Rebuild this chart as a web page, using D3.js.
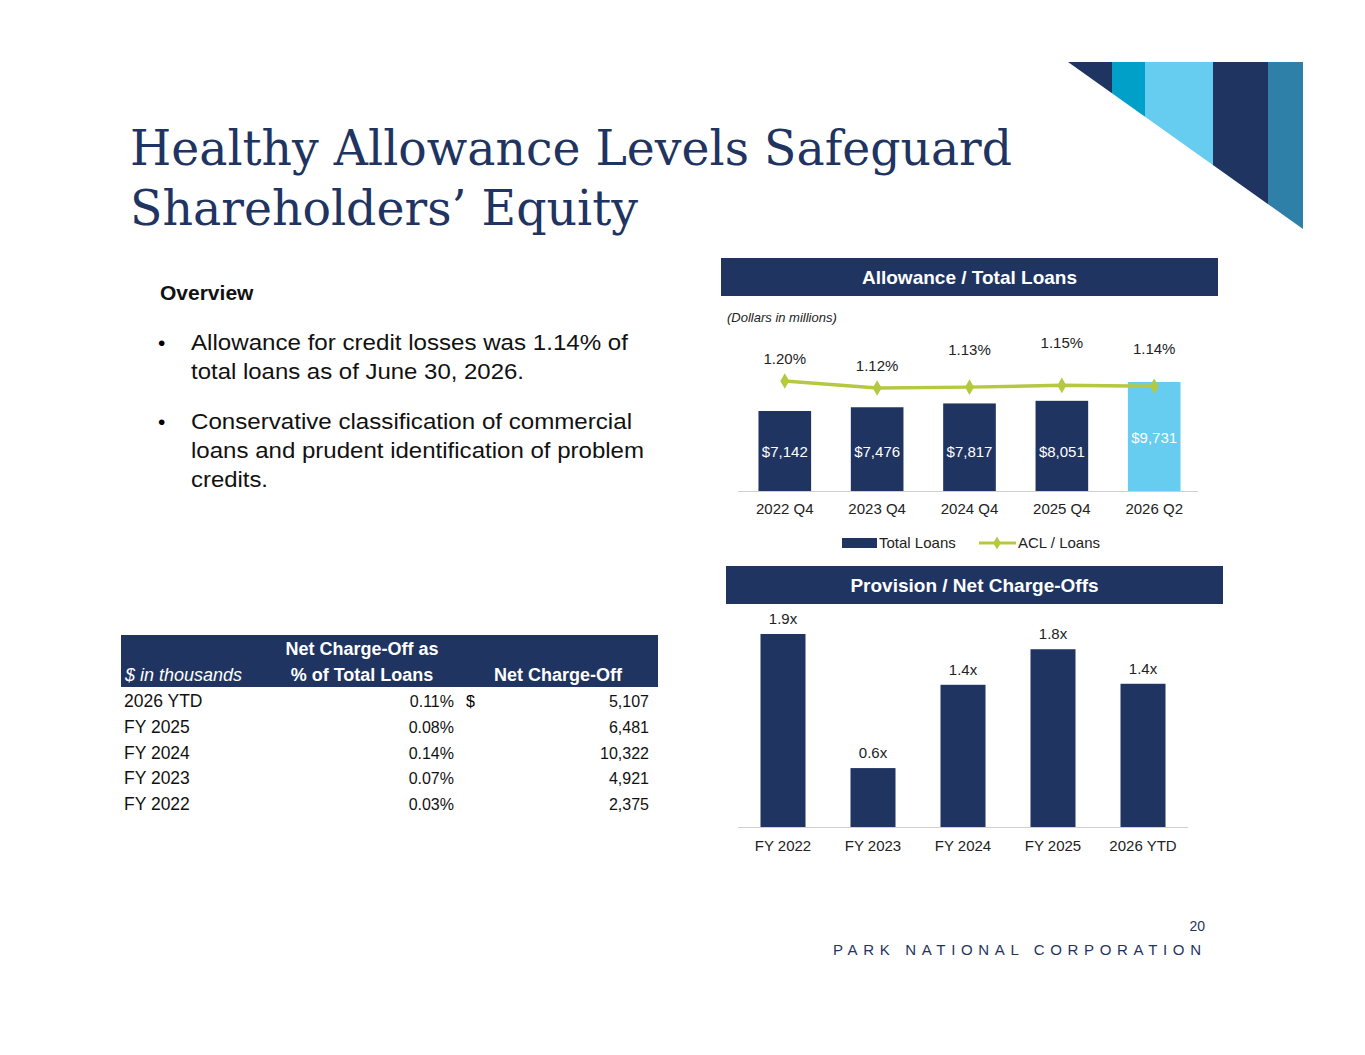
<!DOCTYPE html><html><head><meta charset="utf-8"><script src="https://cdn.jsdelivr.net/npm/d3@7"></script>
<style>body{margin:0;background:#fff}text{font-family:Arial,"Liberation Sans",sans-serif}</style></head><body>
<svg id="c" width="1365" height="1055"></svg>
<script>
const loanCats=["2022 Q4","2023 Q4","2024 Q4","2025 Q4","2026 Q2"];
const totalLoans=[7142,7476,7817,8051,9731];
const aclPct=[1.20,1.12,1.13,1.15,1.14];
const provCats=["FY 2022","FY 2023","FY 2024","FY 2025","2026 YTD"];
const provRatio=[1.9,0.58,1.40,1.75,1.41];
const provLabels=["1.9x","0.6x","1.4x","1.8x","1.4x"];
const tblRows=["2026 YTD","FY 2025","FY 2024","FY 2023","FY 2022"];
const tblPct=["0.11%","0.08%","0.14%","0.07%","0.03%"];
const tblNco=["5,107","6,481","10,322","4,921","2,375"];

const navy="#1f3461",svg=d3.select("#c");
const deco=[[1068,1112,navy],[1112,1145,"#00a0c8"],[1145,1213,"#66ccf0"],[1213,1268,navy],[1268,1303,"#2f80a8"]];
const clip=svg.append("clipPath").attr("id","tri");clip.append("path").attr("d","M1068,62L1303,62L1303,229Z");
deco.forEach(d=>svg.append("rect").attr("clip-path","url(#tri)").attr("x",d[0]).attr("y",62).attr("width",d[1]-d[0]).attr("height",170).attr("fill",d[2]));
svg.append("text").attr("x",130).attr("y",165).style("font-family","'DejaVu Serif',serif").attr("font-size",48).attr("textLength",882).attr("lengthAdjust","spacingAndGlyphs").attr("fill",navy).text("Healthy Allowance Levels Safeguard");
svg.append("text").attr("x",130).attr("y",225).style("font-family","'DejaVu Serif',serif").attr("font-size",48).attr("textLength",508).attr("lengthAdjust","spacingAndGlyphs").attr("fill",navy).text("Shareholders’ Equity");
svg.append("text").attr("x",160).attr("y",300).attr("font-size",21).attr("font-weight","bold").attr("fill","#111").text("Overview");
const bullets=[[350,"Allowance for credit losses was 1.14% of",437],[379,"total loans as of June 30, 2026.",333],[429,"Conservative classification of commercial",441],[458,"loans and prudent identification of problem",453],[487,"credits.",77]];
bullets.forEach(b=>svg.append("text").attr("x",191).attr("y",b[0]).attr("font-size",22.5).attr("textLength",b[2]).attr("lengthAdjust","spacingAndGlyphs").attr("fill","#111").text(b[1]));
[350,429].forEach(y=>svg.append("text").attr("x",158).attr("y",y).attr("font-size",21).text("•"));
function band(x,y,w,h,t){svg.append("rect").attr("x",x).attr("y",y).attr("width",w).attr("height",h).attr("fill",navy);
svg.append("text").attr("x",x+w/2).attr("y",y+h/2+7).attr("text-anchor","middle").attr("fill","#fff").attr("font-weight","bold").attr("font-size",19).text(t);}
band(721,258,497,38,"Allowance / Total Loans");
band(726,566,497,38,"Provision / Net Charge-Offs");
svg.append("text").attr("x",727).attr("y",322).attr("font-size",13).attr("font-style","italic").attr("fill","#222").text("(Dollars in millions)");
const x1=d3.scaleBand().domain(loanCats).range([740,1199]).paddingInner(0.43).paddingOuter(0.2);
const y1=d3.scaleLinear().domain([0,9731]).range([491,382]);
const y1b=d3.scaleLinear().domain([1.12,1.20]).range([388,381]);
const g1=svg.append("g");
g1.selectAll("rect").data(totalLoans).join("rect").attr("x",(d,i)=>x1(loanCats[i])).attr("y",d=>y1(d)).attr("width",x1.bandwidth()).attr("height",d=>491-y1(d)).attr("fill",(d,i)=>i==4?"#66ccf0":navy);
g1.selectAll(".bl").data(totalLoans).join("text").attr("x",(d,i)=>x1(loanCats[i])+x1.bandwidth()/2).attr("y",457).attr("text-anchor","middle").attr("fill","#fff").attr("font-size",15).text(d=>"$"+d3.format(",")(d)).attr("dy",(d,i)=>i==4?-14:0);
g1.append("line").attr("x1",738).attr("x2",1198).attr("y1",491.5).attr("y2",491.5).attr("stroke","#d0d0d0");
const cx=c=>x1(c)+x1.bandwidth()/2;
g1.append("path").attr("d",d3.line().x((d,i)=>cx(loanCats[i])).y(d=>y1b(d))(aclPct)).attr("fill","none").attr("stroke","#b5c842").attr("stroke-width",3.5);
g1.selectAll(".dm").data(aclPct).join("path").attr("d",d3.symbol(d3.symbolDiamond,70)()).attr("transform",(d,i)=>`translate(${cx(loanCats[i])},${y1b(d)})`).attr("fill","#b5c842");
const lblY=[364,371,355,348,354];
g1.selectAll(".pl").data(aclPct).join("text").attr("x",(d,i)=>cx(loanCats[i])).attr("y",(d,i)=>lblY[i]).attr("text-anchor","middle").attr("font-size",15).attr("fill","#222").text(d=>d.toFixed(2)+"%");
g1.selectAll(".xl").data(loanCats).join("text").attr("x",d=>cx(d)).attr("y",514).attr("text-anchor","middle").attr("font-size",15).attr("fill","#222").text(d=>d);
svg.append("rect").attr("x",842).attr("y",538).attr("width",35).attr("height",10).attr("fill",navy);
svg.append("text").attr("x",879).attr("y",548).attr("font-size",15).attr("fill","#222").text("Total Loans");
svg.append("line").attr("x1",979).attr("x2",1016).attr("y1",543).attr("y2",543).attr("stroke","#b5c842").attr("stroke-width",3);
svg.append("path").attr("d",d3.symbol(d3.symbolDiamond,50)()).attr("transform","translate(997,543)").attr("fill","#b5c842");
svg.append("text").attr("x",1018).attr("y",548).attr("font-size",15).attr("fill","#222").text("ACL / Loans");
const x2=d3.scaleBand().domain(provCats).range([738,1188]).paddingInner(0.5).paddingOuter(0.25);
const y2=d3.scaleLinear().domain([0,1.9]).range([827,634]);
const g2=svg.append("g");
g2.selectAll("rect").data(provRatio).join("rect").attr("x",(d,i)=>x2(provCats[i])).attr("y",d=>y2(d)).attr("width",x2.bandwidth()).attr("height",d=>827-y2(d)).attr("fill",navy);
g2.selectAll(".vl").data(provRatio).join("text").attr("x",(d,i)=>x2(provCats[i])+x2.bandwidth()/2).attr("y",d=>y2(d)-10).attr("text-anchor","middle").attr("font-size",15).attr("fill","#222").text((d,i)=>provLabels[i]);
g2.append("line").attr("x1",738).attr("x2",1188).attr("y1",827.5).attr("y2",827.5).attr("stroke","#d0d0d0");
g2.selectAll(".xl").data(provCats).join("text").attr("x",d=>x2(d)+x2.bandwidth()/2).attr("y",851).attr("text-anchor","middle").attr("font-size",15).attr("fill","#222").text(d=>d);
svg.append("rect").attr("x",121).attr("y",635).attr("width",537).attr("height",52).attr("fill",navy);
svg.append("text").attr("x",362).attr("y",655).attr("text-anchor","middle").attr("fill","#fff").attr("font-weight","bold").attr("font-size",18).text("Net Charge-Off as");
svg.append("text").attr("x",362).attr("y",681).attr("text-anchor","middle").attr("fill","#fff").attr("font-weight","bold").attr("font-size",18).text("% of Total Loans");
svg.append("text").attr("x",558).attr("y",681).attr("text-anchor","middle").attr("fill","#fff").attr("font-weight","bold").attr("font-size",18).text("Net Charge-Off");
svg.append("text").attr("x",125).attr("y",681).attr("fill","#fff").attr("font-style","italic").attr("font-size",18).text("$ in thousands");
tblRows.forEach((r,i)=>{const y=707+i*25.8;
svg.append("text").attr("x",124).attr("y",y).attr("font-size",17.5).attr("fill","#111").text(r);
svg.append("text").attr("x",454).attr("y",y).attr("text-anchor","end").attr("font-size",16).attr("fill","#111").text(tblPct[i]);
svg.append("text").attr("x",649).attr("y",y).attr("text-anchor","end").attr("font-size",16).attr("fill","#111").text(tblNco[i]);
if(i==0)svg.append("text").attr("x",466).attr("y",y).attr("font-size",16).text("$");});
svg.append("text").attr("x",1205).attr("y",931).attr("text-anchor","end").attr("font-size",14).attr("fill",navy).text("20");
svg.append("text").attr("x",833).attr("y",955).attr("font-size",15).attr("textLength",368).attr("fill",navy).text("PARK NATIONAL CORPORATION");
</script></body></html>
